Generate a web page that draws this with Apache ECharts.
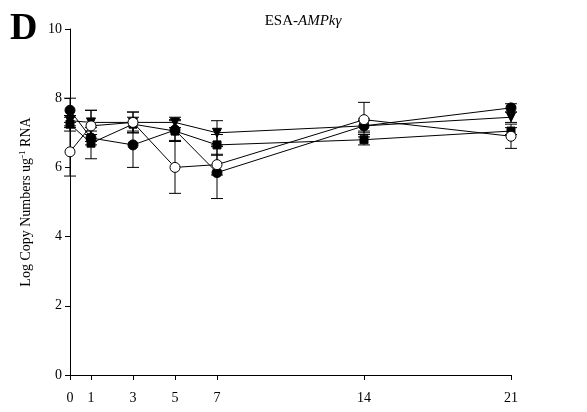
<!DOCTYPE html>
<html><head><meta charset="utf-8">
<script src="https://cdn.jsdelivr.net/npm/echarts@6/dist/echarts.min.js"></script>
<style>html,body{margin:0;padding:0;background:#fff}#c{width:587px;height:412px}</style>
</head><body><div id="c"></div>
<script>
const days = [0, 1, 3, 5, 7, 14, 21];
const xTicks = [0, 1, 3, 5, 7, 14, 21];
const filledCircle = [7.65, 6.85, 6.65, 7.08, 5.85, 7.2, 7.72];
const filledCircleErr = [0.35, 0.2, 0.65, 0.3, 0.75, 0.15, 0.12];
const openCircle = [6.45, 7.2, 7.3, 6.0, 6.08, 7.38, 6.9];
const openCircleErr = [0.7, 0.45, 0.3, 0.75, 0.3, 0.5, 0.35];
const triangle = [7.35, 7.3, 7.3, 7.3, 7.0, 7.2, 7.45];
const triangleErr = [0.15, 0.35, 0.3, 0.15, 0.35, 0.2, 0.15];
const square = [7.25, 6.7, 7.25, 7.05, 6.65, 6.8, 7.05];
const squareErr = [0.2, 0.45, 0.2, 0.3, 0.3, 0.15, 0.1];

const chart = echarts.init(document.getElementById('c'), null, {renderer: 'canvas'});
const font = 'Liberation Serif';

function errSeries(vals, errs) {
  return {
    type: 'custom', silent: true, z: 1,
    data: days.map((d, i) => [d, vals[i] - errs[i], vals[i] + errs[i]]),
    renderItem: function (params, api) {
      const x = api.value(0);
      const lo = api.coord([x, api.value(1)]);
      const hi = api.coord([x, api.value(2)]);
      const w = 6;
      const st = {stroke: '#000', lineWidth: 1};
      return {type: 'group', children: [
        {type: 'line', shape: {x1: lo[0], y1: lo[1], x2: hi[0], y2: hi[1]}, style: st},
        {type: 'line', shape: {x1: lo[0] - w, y1: lo[1], x2: lo[0] + w, y2: lo[1]}, style: st},
        {type: 'line', shape: {x1: hi[0] - w, y1: hi[1], x2: hi[0] + w, y2: hi[1]}, style: st}
      ]};
    }
  };
}
function lineSeries(vals, symbol, fill, size, rotate) {
  return {
    type: 'line', z: 3, data: days.map((d, i) => [d, vals[i]]),
    symbol: symbol, symbolSize: size, symbolRotate: rotate || 0, showSymbol: true,
    lineStyle: {color: '#000', width: 1},
    itemStyle: {color: fill, borderColor: '#000', borderWidth: 1},
    emphasis: {disabled: true}, animation: false
  };
}

chart.setOption({
  animation: false,
  backgroundColor: '#fff',
  title: [
    {text: '{a|ESA-}{b|AMPkγ}', left: 298, top: 9, textAlign: 'center',
      textStyle: {fontWeight: 'normal', rich: {a: {fontFamily: font, fontSize: 15, fontWeight: 'normal', color: '#000'}, b: {fontFamily: font, fontSize: 15, fontStyle: 'italic', fontWeight: 'normal', color: '#000'}}}},
    {text: 'D', left: 5, top: 5, textStyle: {fontFamily: font, fontSize: 38, fontWeight: 'bold', color: '#000'}}
  ],
  grid: {left: 70, right: 76, top: 29, bottom: 37},
  xAxis: {
    type: 'value', min: 0, max: 21,
    axisLine: {lineStyle: {color: '#000', width: 1}},
    axisTick: {show: true, inside: false, length: 5, customValues: xTicks, lineStyle: {color: '#000'}},
    axisLabel: {customValues: xTicks, color: '#000', fontFamily: font, fontSize: 14, margin: 16},
    splitLine: {show: false}
  },
  yAxis: {
    type: 'value', min: 0, max: 10, interval: 2,
    name: '{a|Log Copy Numbers ug}{s|-1}{a| RNA}', nameLocation: 'middle', nameGap: 35, nameRotate: 90,
    nameTextStyle: {rich: {a: {fontFamily: font, fontSize: 14, color: '#000'}, s: {fontFamily: font, fontSize: 9, color: '#000', verticalAlign: 'top', padding: [0,0,8,0]}}},
    axisLine: {show: true, lineStyle: {color: '#000', width: 1}},
    axisTick: {show: true, inside: false, length: 5, lineStyle: {color: '#000'}},
    axisLabel: {color: '#000', fontFamily: font, fontSize: 14, margin: 8},
    splitLine: {show: false}
  },
  series: [
    errSeries(filledCircle, filledCircleErr),
    errSeries(openCircle, openCircleErr),
    errSeries(triangle, triangleErr),
    errSeries(square, squareErr),
    lineSeries(triangle, 'triangle', '#000', 9, 180),
    lineSeries(square, 'rect', '#000', 8),
    lineSeries(filledCircle, 'circle', '#000', 10),
    lineSeries(openCircle, 'circle', '#fff', 10)
  ]
});
</script></body></html>
